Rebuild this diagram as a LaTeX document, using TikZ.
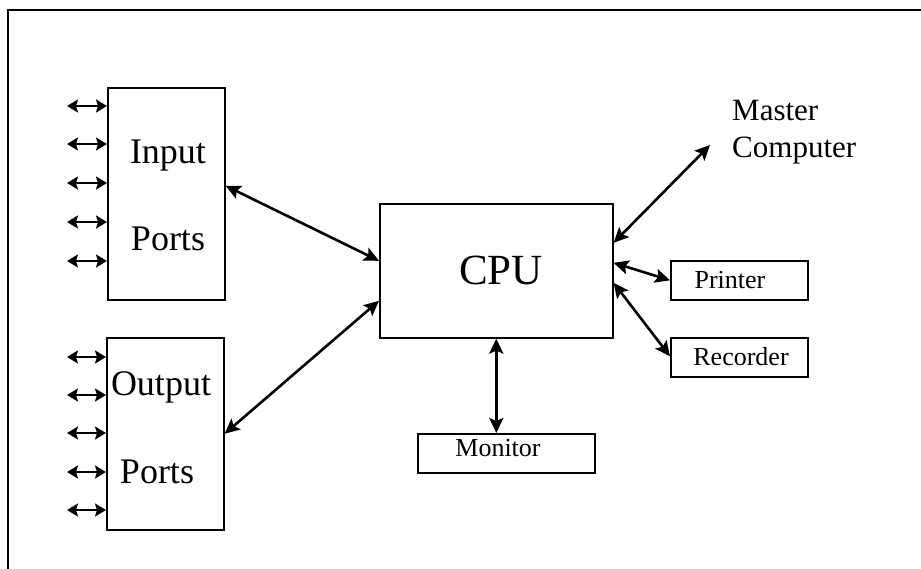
\documentclass[tikz,border=0pt]{standalone}
\usepackage{fontspec}
\setmainfont{Liberation Serif}
\usetikzlibrary{arrows.meta}
\begin{document}
\begin{tikzpicture}[x=1pt,y=-1pt,
  box/.style={draw, line width=1.6pt, inner sep=0pt, anchor=north west},
  dbl/.style={line width=2.6pt, {Stealth[length=15pt,width=14pt,inset=3pt]}-{Stealth[length=15pt,width=14pt,inset=3pt]}},
  port/.style={line width=2.8pt, {Stealth[length=11pt,width=13pt,inset=2pt]}-{Stealth[length=11pt,width=13pt,inset=2pt]}},
  big/.style={font=\fontsize{36}{40}\selectfont, anchor=base, inner sep=0pt},
  mid/.style={font=\fontsize{31}{36}\selectfont, anchor=base west, inner sep=0pt},
  small/.style={font=\fontsize{26}{30}\selectfont, anchor=base, inner sep=0pt}]
\useasboundingbox (0,0) rectangle (921,568);
\fill[white] (0,0) rectangle (921,568);
% frame
\draw[line width=2pt] (8,580) -- (8,10) -- (930,10);
% boxes
\node[box, minimum width=117pt, minimum height=212pt] (inp) at (107,87) {};
\node[box, minimum width=117pt, minimum height=192pt] (out) at (106,337) {};
\node[box, minimum width=233pt, minimum height=134pt] (cpu) at (379,203) {};
\node[box, minimum width=137pt, minimum height=39pt] (prn) at (670,260) {};
\node[box, minimum width=137pt, minimum height=39pt] (rec) at (670,337) {};
\node[box, minimum width=177pt, minimum height=39pt] (mon) at (417,433) {};
% texts
\node[big] (tin1) at (168,163) {Input};
\node[big] (tin2) at (168,250) {Ports};
\node[big] (tout1) at (161,395) {Output};
\node[big] (tout2) at (157,483) {Ports};
\node[font=\fontsize{43}{48}\selectfont, anchor=base, inner sep=0pt] (tcpu) at (501,284) {CPU};
\node[mid] (tm1) at (732,120) {Master};
\node[mid] (tm2) at (732,157) {Computer};
\node[small] (tprn) at (730,288) {Printer};
\node[small] (trec) at (741,365) {Recorder};
\node[small] (tmon) at (498,456) {Monitor};
% port arrows
\foreach \i/\y in {1/106,2/144,3/183,4/222,5/261}{
  \coordinate (i\i) at (67,\y);
  \draw[port] (i\i) -- (i\i -| inp.west);
}
\foreach \i/\y in {1/357,2/395,3/433,4/472,5/510}{
  \coordinate (o\i) at (67,\y);
  \draw[port] (o\i) -- (o\i -| out.west);
}
% main arrows
\draw[dbl] ([yshift=8pt]inp.east) -- ([yshift=10pt]cpu.west);
\draw[dbl] (out.east) -- ([yshift=-30pt]cpu.west);
\coordinate (mc) at (710,145);
\draw[dbl] ([yshift=28pt]cpu.east) -- (mc);
\draw[dbl] ([yshift=8pt]cpu.east) -- (prn.west);
\draw[dbl] ([yshift=-12pt]cpu.east) -- ([yshift=1pt]rec.west);
\draw[dbl] (cpu.south) -- (cpu.south |- mon.north);
\end{tikzpicture}
\end{document}
